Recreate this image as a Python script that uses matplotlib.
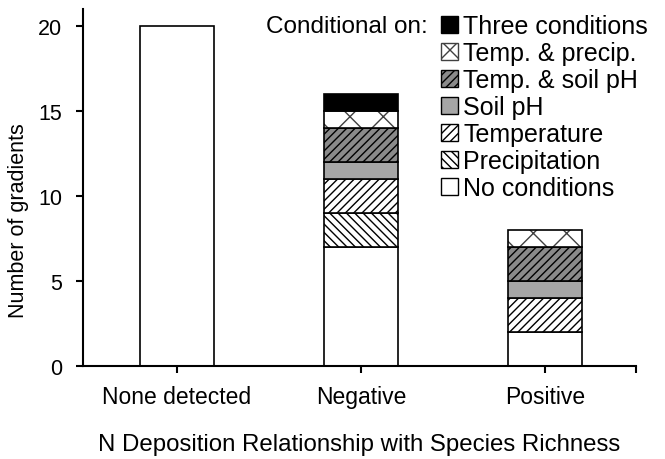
import matplotlib.pyplot as plt
import numpy as np
from matplotlib.patches import Patch

plt.rcParams['font.family'] = ['Liberation Sans', 'DejaVu Sans']
plt.rcParams['hatch.linewidth'] = 1.0

categories = ['None detected', 'Negative', 'Positive']
no_cond = [20, 7, 2]
precip = [0, 2, 0]
temp = [0, 2, 2]
soil_ph = [0, 1, 1]
temp_soil = [0, 2, 2]
temp_precip = [0, 1, 1]
three = [0, 1, 0]

series = [no_cond, precip, temp, soil_ph, temp_soil, temp_precip, three]
labels = ['No conditions', 'Precipitation', 'Temperature', 'Soil pH',
          'Temp. & soil pH', 'Temp. & precip.', 'Three conditions']
# (face, hatch, hatch colour)
styles = [('white', '', 'black'),
          ('white', '\\\\\\\\', 'black'),
          ('white', '////', 'black'),
          ('#a6a6a6', '', 'black'),
          ('#8a8a8a', '////', 'black'),
          ('white', 'x', '#404040'),
          ('black', '', 'black')]

fig = plt.figure(figsize=(6.65, 4.6), dpi=100)
ax = fig.add_axes([83/665, 1-367/460, (636-83)/665, (367-10)/460])

x = np.arange(len(categories))
w = 0.4
bottom = np.zeros(len(categories))
for vals, (fc, h, hc) in zip(series, styles):
    vals = np.array(vals, dtype=float)
    m = vals > 0
    ax.bar(x[m], vals[m], w, bottom=bottom[m], color=fc, hatch=h,
           edgecolor=hc, linewidth=0)
    ax.bar(x[m], vals[m], w, bottom=bottom[m], fill=False,
           edgecolor='black', linewidth=1.2)
    bottom += vals

ax.set_xlim(-0.51, 2.495)
ax.set_ylim(0, 21)
ax.set_yticks([0, 5, 10, 15, 20])
ax.set_xticks(x)
ax.set_xticklabels(categories)
ax.set_xticks([2.495], minor=True)
for s in ['top', 'right']:
    ax.spines[s].set_visible(False)
for s in ['left', 'bottom']:
    ax.spines[s].set_linewidth(1.5)
ax.tick_params(axis='both', which='both', direction='out', length=5, width=1.5)
ax.tick_params(axis='x', pad=9, labelsize=16.5)
ax.tick_params(axis='y', pad=10, labelsize=15.5)

ax.set_ylabel('Number of gradients', fontsize=15.5)
ax.yaxis.set_label_coords(-0.098, 0.41)
ax.set_xlabel('N Deposition Relationship with Species Richness', fontsize=17.3, labelpad=18)

handles = [Patch(facecolor=fc, hatch=h, edgecolor=hc, linewidth=1) for fc, h, hc in styles]
leg = fig.legend(handles[::-1], labels[::-1], loc='upper left',
                 bbox_to_anchor=(441/665, 1-15/460), frameon=False, fontsize=18,
                 handlelength=0.7, handleheight=0.7, handletextpad=0.2,
                 labelspacing=0.12, borderpad=0, borderaxespad=0)
fig.text(266/665, 1-27/460, 'Conditional on:', fontsize=17.5, ha='left', va='center')

fig.savefig('out.png', dpi=100)
